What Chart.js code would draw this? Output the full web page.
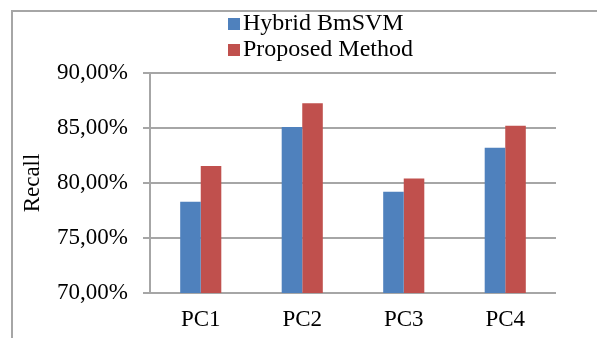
<!DOCTYPE html>
<html>
<head>
<meta charset="utf-8">
<script src="https://cdn.jsdelivr.net/npm/chart.js@4"></script>
<style>
  html, body { margin:0; padding:0; background:#fff; }
  #wrap { position:relative; width:597px; height:338px; }
  #frame { position:absolute; left:11px; top:10px; right:-4px; bottom:-4px; border-left:2px solid #a6a6a6; border-top:2px solid #a6a6a6; }
  canvas { position:absolute; left:0; top:0; }
</style>
</head>
<body>
<div id="wrap">
  <div id="frame"></div>
  <canvas id="grafico" width="597" height="338"></canvas>
</div>
<script>
// DADOS
const categorias = ["PC1", "PC2", "PC3", "PC4"];
const hybridBmSVM = [78.3, 85.1, 79.2, 83.2];
const proposedMethod = [81.55, 87.25, 80.4, 85.2];
const nomesSeries = ["Hybrid BmSVM", "Proposed Method"];
const coresSeries = ["#4F81BD", "#C0504D"];

const fonte = "'Liberation Serif', 'Times New Roman', serif";

// LEGENDA EMPILHADA (uma linha por série)
const legendaEmpilhada = {
  id: "legendaEmpilhada",
  afterDraw(chart) {
    const ctx = chart.ctx;
    ctx.save();
    ctx.font = "24px " + fonte;
    ctx.textBaseline = "middle";
    ctx.textAlign = "left";
    chart.data.datasets.forEach((ds, i) => {
      const y = 24 + i * 26;
      ctx.fillStyle = ds.backgroundColor;
      ctx.fillRect(228, y - 6, 12, 12);
      ctx.fillStyle = "#000";
      ctx.fillText(ds.label, 243, y);
    });
    ctx.restore();
  }
};

new Chart(document.getElementById("grafico"), {
  type: "bar",
  data: {
    labels: categorias,
    datasets: [
      { label: nomesSeries[0], data: hybridBmSVM, backgroundColor: coresSeries[0] },
      { label: nomesSeries[1], data: proposedMethod, backgroundColor: coresSeries[1] }
    ]
  },
  options: {
    responsive: false,
    animation: false,
    layout: { padding: { top: 73, right: 41, left: 0, bottom: 0 } },
    datasets: { bar: { categoryPercentage: 0.405, barPercentage: 1 } },
    plugins: { legend: { display: false }, tooltip: { enabled: false } },
    scales: {
      x: {
        grid: { display: false, drawTicks: false },
        border: { display: false },
        ticks: { color: "#000", padding: 13, font: { family: fonte, size: 23 } },
        afterFit(s) { s.height = 45; }
      },
      y: {
        min: 70, max: 90,
        ticks: {
          stepSize: 5, color: "#000", padding: 15,
          font: { family: fonte, size: 23 },
          callback: v => v.toFixed(2).replace(".", ",") + "%"
        },
        grid: { color: "#a6a6a6", lineWidth: 2, tickLength: 7 },
        border: { display: true, color: "#a6a6a6", width: 2 },
        title: { display: true, text: "Recall", color: "#000", padding: { top: 19, bottom: 0 }, font: { family: fonte, size: 23 } },
        afterFit(s) { s.width = 150; }
      }
    }
  },
  plugins: [legendaEmpilhada]
});
</script>
</body>
</html>
